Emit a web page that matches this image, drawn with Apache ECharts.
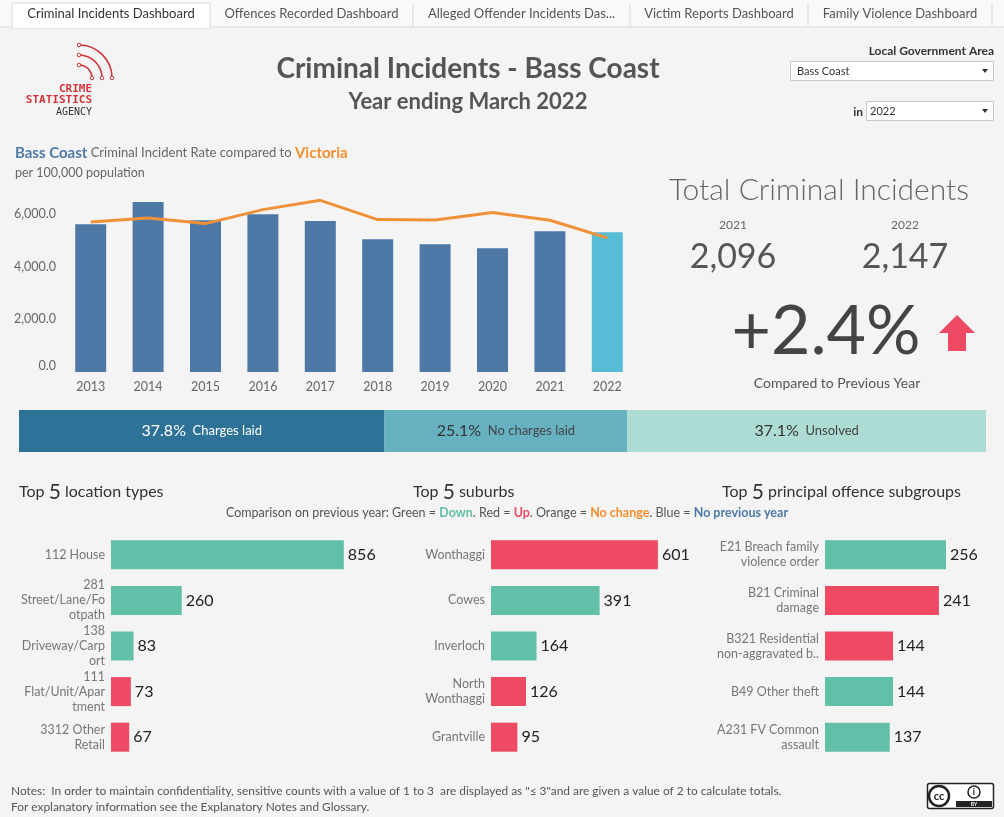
<!DOCTYPE html>
<html>
<head>
<meta charset="utf-8">
<script src="https://cdn.jsdelivr.net/npm/echarts@6/dist/echarts.min.js"></script>
<style>
    html, body { margin: 0; padding: 0; background: #f4f4f4; }
    #dash { width: 1004px; height: 817px; }
</style>
</head>
<body>
<div id="dash"></div>
<script>
    // rate per 100,000 population
    const years = ['2013', '2014', '2015', '2016', '2017', '2018', '2019', '2020', '2021', '2022'];
    const rateBassCoast = [5621, 6468, 5773, 6000, 5747, 5051, 4861, 4709, 5355, 5317];
    const rateVictoria = [5709, 5861, 5646, 6178, 6532, 5798, 5780, 6065, 5773, 5101];

    const totalYears = ['2021', '2022'];
    const totalCounts = [2096, 2147];

    const outcomeNames = ['Charges laid', 'No charges laid', 'Unsolved'];
    const outcomeShare = [37.8, 25.1, 37.1];

    const locationTypes = ['112 House', '281\nStreet/Lane/Fo\notpath', '138\nDriveway/Carp\nort', '111\nFlat/Unit/Apar\ntment', '3312 Other\nRetail'];
    const locationCounts = [856, 260, 83, 73, 67];
    const locationChange = ['down', 'down', 'down', 'up', 'up'];

    const suburbs = ['Wonthaggi', 'Cowes', 'Inverloch', 'North\nWonthaggi', 'Grantville'];
    const suburbCounts = [601, 391, 164, 126, 95];
    const suburbChange = ['up', 'down', 'down', 'up', 'up'];

    const offenceGroups = ['E21 Breach family\nviolence order', 'B21 Criminal\ndamage', 'B321 Residential\nnon-aggravated b..', 'B49 Other theft', 'A231 FV Common\nassault'];
    const offenceCounts = [256, 241, 144, 144, 137];
    const offenceChange = ['down', 'up', 'up', 'down', 'down'];

    const tabs = ['Criminal Incidents Dashboard', 'Offences Recorded Dashboard', 'Alleged Offender Incidents Das...', 'Victim Reports Dashboard', 'Family Violence Dashboard'];

    const F = 'Lato, "Open Sans", sans-serif';
    const changeColors = { down: '#62BFA8', up: '#EE4A63', same: '#F28E2B', none: '#4E79A7' };
    const outcomeColors = ['#2E7298', '#67B2C1', '#ADDCD5'];

    const chart = echarts.init(document.getElementById('dash'));

    // text helper
    function txt(x, y, text, size, color, opts) {
        opts = opts || {};
        return {
            type: 'text', x: x, y: y, silent: true,
            style: Object.assign({
                text: text, fill: color,
                font: (opts.weight || 'normal') + ' ' + size + 'px ' + F,
                textAlign: opts.align || 'left',
                textVerticalAlign: 'middle',
                rich: opts.rich
            }, opts.style || {})
        };
    }

    // tab strip
    const tabEdges = [12, 210, 413, 630, 808, 992];
    const graphics = [
        { type: 'rect', shape: { x: 0, y: 0, width: 1004, height: 27 }, style: { fill: '#f9f9f9' }, silent: true },
        { type: 'line', shape: { x1: 0, y1: 27, x2: 1004, y2: 27 }, style: { stroke: '#d9d9d9', lineWidth: 1 } },
        { type: 'rect', shape: { x: 12, y: 3, width: 198, height: 25 }, style: { fill: '#ffffff', stroke: '#d9d9d9' }, silent: true },
        { type: 'line', shape: { x1: 13, y1: 27, x2: 209, y2: 27 }, style: { stroke: '#ffffff', lineWidth: 2 } }
    ];
    tabs.forEach(function (t, i) {
        if (i > 0) {
            graphics.push({ type: 'line', shape: { x1: tabEdges[i + 1], y1: 4, x2: tabEdges[i + 1], y2: 26 }, style: { stroke: '#d9d9d9' } });
        }
        graphics.push(txt((tabEdges[i] + tabEdges[i + 1]) / 2, 14, t, 13, i === 0 ? '#333' : '#555', { align: 'center' }));
    });

    // logo
    [33, 23, 13].forEach(function (r) {
        graphics.push({ type: 'arc', shape: { cx: 79, cy: 78, r: r, startAngle: -Math.PI / 2, endAngle: 0 }, style: { stroke: '#D0343A', lineWidth: 1.6, fill: null } });
        graphics.push({ type: 'circle', shape: { cx: 79, cy: 78 - r, r: 1.8 }, style: { fill: '#fff', stroke: '#D0343A', lineWidth: 1 } });
        graphics.push({ type: 'circle', shape: { cx: 79 + r, cy: 78, r: 1.8 }, style: { fill: '#fff', stroke: '#D0343A', lineWidth: 1 } });
    });
    graphics.push(txt(92, 89, 'CRIME', 11, '#D0343A', { align: 'right', style: { font: 'bold 11px "DejaVu Sans Mono", monospace' } }));
    graphics.push(txt(92, 100, 'STATISTICS', 11, '#D0343A', { align: 'right', style: { font: 'bold 11px "DejaVu Sans Mono", monospace' } }));
    graphics.push(txt(92, 112, 'AGENCY', 10, '#333', { align: 'right', style: { font: '10px "DejaVu Sans Mono", monospace' } }));

    // titles
    graphics.push(txt(468, 69, 'Criminal Incidents - Bass Coast', 28, '#555', { align: 'center', weight: 'bold' }));
    graphics.push(txt(468, 102, 'Year ending March 2022', 22, '#555', { align: 'center', weight: 'bold' }));

    // filters
    graphics.push(txt(994, 51, 'Local Government Area', 12, '#333', { align: 'right', weight: 'bold' }));
    graphics.push({ type: 'rect', shape: { x: 790.5, y: 61.5, width: 203, height: 19 }, style: { fill: '#fff', stroke: '#c8c8c8' } });
    graphics.push(txt(797, 71, 'Bass Coast', 11, '#333'));
    graphics.push({ type: 'polygon', shape: { points: [[982, 69], [988, 69], [985, 73]] }, style: { fill: '#333' } });
    graphics.push(txt(863, 112, 'in', 12, '#333', { align: 'right', weight: 'bold' }));
    graphics.push({ type: 'rect', shape: { x: 866.5, y: 101.5, width: 127, height: 19 }, style: { fill: '#fff', stroke: '#c8c8c8' } });
    graphics.push(txt(870, 111, '2022', 11, '#333'));
    graphics.push({ type: 'polygon', shape: { points: [[982, 109], [988, 109], [985, 113]] }, style: { fill: '#333' } });

    // rate chart title
    graphics.push(txt(15, 153, '{a|Bass Coast} {b|Criminal Incident Rate compared to} {c|Victoria}', 13, '#666', {
        rich: {
            a: { fill: '#4E79A7', font: 'bold 15px ' + F },
            b: { fill: '#666', font: '13px ' + F },
            c: { fill: '#F28E2B', font: 'bold 15px ' + F }
        }
    }));
    graphics.push(txt(15, 173, 'per 100,000 population', 12.5, '#666'));

    // totals
    const pct = (totalCounts[1] - totalCounts[0]) / totalCounts[0] * 100;
    graphics.push(txt(819, 190, 'Total Criminal Incidents', 30, '#666', { align: 'center', weight: '300' }));
    graphics.push(txt(733, 225, totalYears[0], 12, '#666', { align: 'center' }));
    graphics.push(txt(905, 225, totalYears[1], 12, '#666', { align: 'center' }));
    graphics.push(txt(733, 257, totalCounts[0].toLocaleString('en-US'), 34, '#555', { align: 'center' }));
    graphics.push(txt(905, 257, totalCounts[1].toLocaleString('en-US'), 34, '#555', { align: 'center' }));
    graphics.push(txt(826, 332, (pct >= 0 ? '+' : '') + pct.toFixed(1) + '%', 68, '#444', { align: 'center' }));
    graphics.push({ type: 'polygon', shape: { points: [[957, 315], [975, 333], [966, 333], [966, 351], [948, 351], [948, 333], [939, 333]] }, style: { fill: changeColors.up } });
    graphics.push(txt(837, 383, 'Compared to Previous Year', 14, '#555', { align: 'center' }));

    // section titles
    const topRich = { n: { font: '21px ' + F, fill: '#333' } };
    graphics.push(txt(19, 492, 'Top {n|5} location types', 16, '#333', { rich: topRich }));
    graphics.push(txt(413, 492, 'Top {n|5} suburbs', 16, '#333', { rich: topRich }));
    graphics.push(txt(722, 492, 'Top {n|5} principal offence subgroups', 16, '#333', { rich: topRich }));
    graphics.push(txt(507, 513, 'Comparison on previous year: Green = {g|Down}. Red = {r|Up}. Orange = {o|No change}. Blue = {b|No previous year}', 12.5, '#555', {
        align: 'center',
        rich: {
            g: { fill: changeColors.down, font: 'bold 12.5px ' + F },
            r: { fill: changeColors.up, font: 'bold 12.5px ' + F },
            o: { fill: changeColors.same, font: 'bold 12.5px ' + F },
            b: { fill: changeColors.none, font: 'bold 12.5px ' + F }
        }
    }));

    // notes + licence badge
    graphics.push(txt(11, 791, 'Notes:  In order to maintain confidentiality, sensitive counts with a value of 1 to 3  are displayed as "\u2264 3"and are given a value of 2 to calculate totals.', 11.9, '#555'));
    graphics.push(txt(11, 807, 'For explanatory information see the Explanatory Notes and Glossary.', 11.9, '#555'));
    graphics.push({ type: 'rect', shape: { x: 927.5, y: 783.5, width: 66, height: 25, r: 2 }, style: { fill: '#fff', stroke: '#222', lineWidth: 1.5 } });
    graphics.push({ type: 'rect', shape: { x: 956, y: 801, width: 36, height: 6 }, style: { fill: '#222' } });
    graphics.push({ type: 'circle', shape: { cx: 939, cy: 796, r: 10 }, style: { fill: '#fff', stroke: '#222', lineWidth: 2.5 } });
    graphics.push(txt(939, 796, 'cc', 11, '#222', { align: 'center', weight: 'bold' }));
    graphics.push({ type: 'circle', shape: { cx: 974, cy: 792, r: 6 }, style: { fill: '#fff', stroke: '#222', lineWidth: 1.5 } });
    graphics.push(txt(974, 792, 'i', 9, '#222', { align: 'center', weight: 'bold' }));
    graphics.push(txt(974, 804, 'BY', 5, '#fff', { align: 'center', weight: 'bold' }));

    function barSeries(idx, names, values, change) {
        return {
            type: 'bar', xAxisIndex: idx, yAxisIndex: idx,
            barWidth: 29,
            data: values.map(function (v, i) {
                return { value: v, itemStyle: { color: changeColors[change[i]] } };
            }),
            label: { show: true, position: 'right', distance: 4, color: '#222', fontSize: 16, fontFamily: F },
            silent: true
        };
    }
    function catAxis(idx, names) {
        return {
            type: 'category', gridIndex: idx, data: names, inverse: true,
            axisLine: { show: false }, axisTick: { show: false },
            axisLabel: { color: '#777', fontSize: 12.5, fontFamily: F, lineHeight: 15, margin: 6, align: 'right' }
        };
    }
    function valAxis(idx, max) {
        return { type: 'value', gridIndex: idx, min: 0, max: max, show: false, splitLine: { show: false } };
    }

    const option = {
        backgroundColor: '#f4f4f4',
        animation: false,
        grid: [
            { left: 62, top: 188, width: 574, height: 184 },
            { left: 19, top: 410, width: 967, height: 42 },
            { left: 111, top: 532, width: 272, height: 228 },
            { left: 491, top: 532, width: 194.4, height: 228 },
            { left: 825, top: 532, width: 141.8, height: 228 }
        ],
        xAxis: [
            {
                type: 'category', gridIndex: 0, data: years,
                axisLine: { show: false }, axisTick: { show: false },
                axisLabel: { color: '#666', fontSize: 12.5, fontFamily: F, margin: 8 }
            },
            { type: 'value', gridIndex: 1, min: 0, max: 100, show: false },
            valAxis(2, 1000),
            valAxis(3, 700),
            valAxis(4, 300)
        ],
        yAxis: [
            {
                type: 'value', gridIndex: 0, min: 0, max: 7000, interval: 2000,
                axisLine: { show: false }, axisTick: { show: false }, splitLine: { show: false },
                axisLabel: {
                    color: '#666', fontSize: 12.5, fontFamily: F, margin: 6, showMaxLabel: false,
                    verticalAlignMinLabel: 'bottom',
                    formatter: function (v) { return v.toLocaleString('en-US', { minimumFractionDigits: 1, maximumFractionDigits: 1 }); }
                }
            },
            { type: 'category', gridIndex: 1, data: ['outcome'], show: false },
            catAxis(2, locationTypes),
            catAxis(3, suburbs),
            catAxis(4, offenceGroups)
        ],
        series: [
            {
                name: 'Bass Coast', type: 'bar', xAxisIndex: 0, yAxisIndex: 0, barWidth: '54%',
                data: rateBassCoast.map(function (v, i) {
                    return { value: v, itemStyle: { color: i === years.length - 1 ? '#57BCD5' : '#4E79A7' } };
                }),
                silent: true
            },
            {
                name: 'Victoria', type: 'line', xAxisIndex: 0, yAxisIndex: 0, data: rateVictoria,
                symbol: 'none', lineStyle: { color: '#F0913A', width: 3 }, silent: true
            }
        ].concat(outcomeNames.map(function (n, i) {
            return {
                name: n, type: 'bar', stack: 'outcome', xAxisIndex: 1, yAxisIndex: 1, barWidth: 42,
                data: [outcomeShare[i]],
                itemStyle: { color: outcomeColors[i] },
                label: {
                    show: true, position: 'inside',
                    formatter: '{a|' + outcomeShare[i].toFixed(1) + '%}  {b|' + n + '}',
                    rich: {
                        a: { fontSize: 16, fontFamily: F, color: i === 0 ? '#fff' : '#333' },
                        b: { fontSize: 13, fontFamily: F, color: i === 0 ? '#fff' : '#444' }
                    }
                },
                silent: true
            };
        })).concat([
            barSeries(2, locationTypes, locationCounts, locationChange),
            barSeries(3, suburbs, suburbCounts, suburbChange),
            barSeries(4, offenceGroups, offenceCounts, offenceChange)
        ]),
        graphic: graphics
    };
    chart.setOption(option);
</script>
</body>
</html>
